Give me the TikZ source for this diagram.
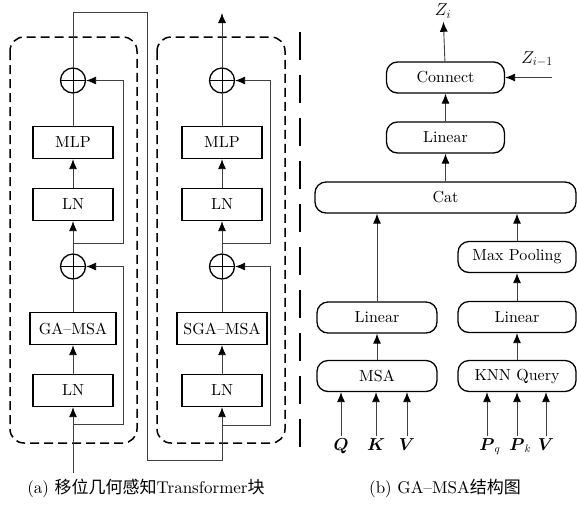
\documentclass[tikz,border=0pt]{standalone}
\usepackage{amsmath}
\usepackage{fontspec}
\setmainfont{lmroman10-regular.otf}[BoldFont=lmroman10-bold.otf,ItalicFont=lmroman10-italic.otf]
\newfontfamily\cjk{Noto Sans CJK SC}
\usetikzlibrary{positioning,arrows.meta}

\tikzset{
  blk/.style={draw,line width=1.3pt,minimum width=80pt,minimum height=32pt,inner sep=2pt},
  rblk/.style={draw,line width=1.3pt,rounded corners=11pt,minimum width=118pt,minimum height=31pt,inner sep=2pt},
  sum/.style={draw,circle,line width=1.3pt,minimum size=25pt,inner sep=0pt,
    path picture={\draw[line width=0.8pt]
      (path picture bounding box.west) -- (path picture bounding box.east)
      (path picture bounding box.north) -- (path picture bounding box.south);}},
  wire/.style={draw=black!75,line width=0.9pt},
  flow/.style={wire,-{Latex[length=10pt,width=8pt,color=black]}},
  group/.style={draw,line width=1.5pt,dash pattern=on 9pt off 5pt,rounded corners=14pt},
  inp/.style={anchor=north,inner sep=2pt}
}

\begin{document}
\begin{tikzpicture}[x=1pt,y=-1pt,node distance=62pt,on grid,font=\fontsize{16}{19}\selectfont]
  \useasboundingbox (0,0) rectangle (577,504);

  % (a) first block
  \node[blk] (ln1a) at (73,390.5) {LN};
  \node[blk,minimum width=86pt] (msaa) [above=of ln1a] {GA--MSA};
  \node[sum] (s1a) [above=of msaa] {};
  \node[blk] (ln2a) [above=of s1a] {LN};
  \node[blk] (mlpa) [above=of ln2a] {MLP};
  \node[sum] (s2a) [above=of mlpa] {};

  % (a) second block
  \node[blk] (ln1b) at (222,390.5) {LN};
  \node[blk,minimum width=90pt] (msab) [above=of ln1b] {SGA--MSA};
  \node[sum] (s1b) [above=of msab] {};
  \node[blk] (ln2b) [above=of s1b] {LN};
  \node[blk] (mlpb) [above=of ln2b] {MLP};
  \node[sum] (s2b) [above=of mlpb] {};

  \draw[group] (10,37) rectangle (137,443);
  \draw[group] (157,37) rectangle (285,443);
  \draw[line width=2pt,dash pattern=on 28pt off 15pt] (300,32) -- (300,448);

  \coordinate (ina) at (73,473);
  \coordinate (fork1a) at (73,424);
  \coordinate (fork2a) at (73,243);
  \coordinate (fork1b) at (222,425);
  \coordinate (fork2b) at (222,243);
  \coordinate (topl) at (73,12);
  \coordinate (topr) at (147,12);
  \coordinate (botr) at (147,460);
  \coordinate (outb) at (222,13);

  \draw[flow] (ina) -- (ln1a);
  \draw[flow] (ln1a) -- (msaa);
  \draw[wire] (msaa) -- (s1a);
  \draw[flow] (s1a) -- (ln2a);
  \draw[flow] (ln2a) -- (mlpa);
  \draw[wire] (mlpa) -- (s2a);
  \draw[flow] (fork1a) -- ++(50,0) |- (s1a.east);
  \draw[flow] (fork2a) -- ++(50,0) |- (s2a.east);
  \draw[flow] (s2a) -- (topl) -- (topr) -- (botr) -| (ln1b);

  \draw[flow] (ln1b) -- (msab);
  \draw[wire] (msab) -- (s1b);
  \draw[flow] (s1b) -- (ln2b);
  \draw[flow] (ln2b) -- (mlpb);
  \draw[wire] (mlpb) -- (s2b);
  \draw[flow] (fork1b) -- ++(48,0) |- (s1b.east);
  \draw[flow] (fork2b) -- ++(48,0) |- (s2b.east);
  \draw[flow] (s2b) -- (outb);

  % (b) GA-MSA
  \node[rblk,minimum width=120pt] (msa) at (377,376) {MSA};
  \node[rblk,minimum width=120pt] (lin1) [above=58.5pt of msa] {Linear};
  \node[rblk] (knn) at (517,376) {KNN Query};
  \node[rblk] (lin2) [above=59pt of knn] {Linear};
  \node[rblk] (pool) [above=60pt of lin2] {Max Pooling};
  \node[rblk,minimum width=261pt] (cat) at (445.5,197.5) {Cat};
  \node[rblk] (lin3) [above=60pt of cat] {Linear};
  \node[rblk] (conn) [above=60pt of lin3] {Connect};

  \node[font=\fontsize{18}{21}\selectfont] (zi) at (443,11) {$Z_i$};
  \node[font=\fontsize{18}{21}\selectfont] (zim) at (537,59) {$Z_{i-1}$};
  \coordinate (zin) at (552,77.5);

  \node[inp] (lq) at (341,436) {$\boldsymbol{Q}$};
  \node[inp] (lk) at (376,436) {$\boldsymbol{K}$};
  \node[inp] (lv) at (407,436) {$\boldsymbol{V}$};
  \node[inp] (lpq) at (487,436) {$\boldsymbol{P}\rlap{$_q$}$};
  \node[inp] (lpk) at (517,436) {$\boldsymbol{P}\rlap{$_k$}$};
  \node[inp] (lv2) at (546,436) {$\boldsymbol{V}$};

  \path[flow]
    (lq) edge (lq |- msa.south)
    (lk) edge (lk |- msa.south)
    (lv) edge (lv |- msa.south)
    (lpq) edge (lpq |- knn.south)
    (lpk) edge (lpk |- knn.south)
    (lv2) edge (lv2 |- knn.south)
    (msa) edge (lin1)
    (knn) edge (lin2)
    (lin2) edge (pool)
    (lin1) edge (lin1 |- cat.south)
    (pool) edge (pool |- cat.south)
    (cat) edge (lin3)
    (lin3) edge (conn)
    (conn) edge (zi);
  \draw[flow] (zin) -- (conn.east);

  % captions
  \node[font=\fontsize{17}{20}\selectfont] (capa) at (146,488) {(a) {\cjk 移位几何感知}Transformer{\cjk 块}};
  \node[font=\fontsize{17}{20}\selectfont] (capb) at (445,488) {(b) GA--MSA{\cjk 结构图}};
\end{tikzpicture}
\end{document}
